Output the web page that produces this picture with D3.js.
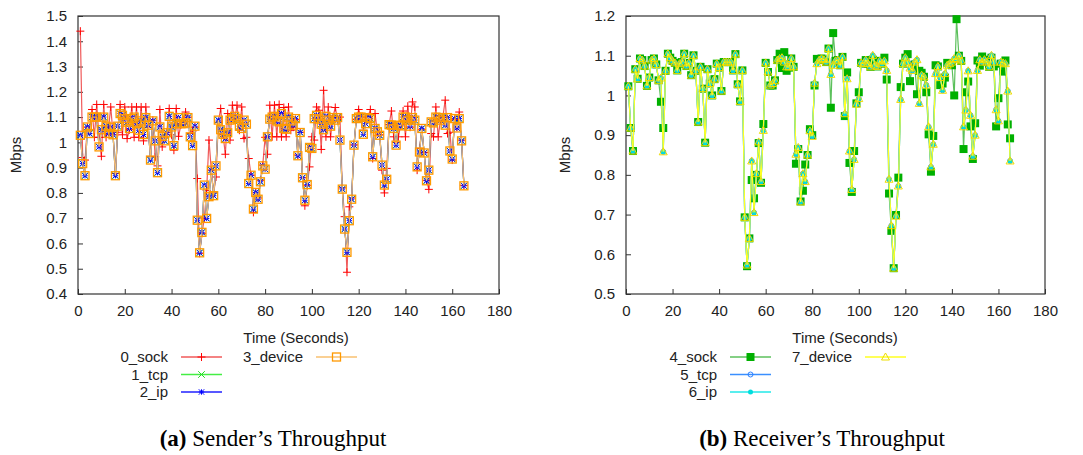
<!DOCTYPE html>
<html>
<head>
<meta charset="utf-8">
<script src="https://cdn.jsdelivr.net/npm/d3@7"></script>
<style>
  body { margin: 0; background: white; }
  svg text { font-family: "Liberation Sans", Arial, sans-serif; fill: #222; }
  .caption { font-family: "Liberation Serif", "Times New Roman", serif; font-size: 23px; fill: #000; }
</style>
</head>
<body>
<svg id="chart" width="1083" height="455"></svg>
<script>
// x ticks shared by both panels
var timeTicks = [0, 20, 40, 60, 80, 100, 120, 140, 160, 180];
var senderTicks = [0.4, 0.5, 0.6, 0.7, 0.8, 0.9, 1, 1.1, 1.2, 1.3, 1.4, 1.5];
var receiverTicks = [0.5, 0.6, 0.7, 0.8, 0.9, 1, 1.1, 1.2];

// sender: socket layer (red)
var senderSock = [1.44, 0.94, 0.93, 1.06, 1.05, 1.13, 1.02, 1.15, 1.02, 0.945,
  1.15, 1.02, 1.05, 1.14, 1.03, 0.877, 1.04, 1.15, 1.03, 1.14,
  1.015, 1.05, 1.14, 1.02, 1.14, 1.02, 1.14, 1.006, 1.14, 1.06,
  0.943, 1.088, 0.943, 0.907, 1.13, 0.982, 1.02, 1.04, 1.134, 1.03,
  0.969, 1.134, 1.024, 1.07, 1.09, 1.12, 1.10, 1.035, 1.045, 1.06,
  0.857, 0.561, 0.64, 0.70, 0.81, 1.009, 0.89, 0.80, 0.863, 1.08,
  1.134, 1.03, 0.953, 1.114, 1.009, 1.147, 1.09, 1.147, 1.048, 1.14,
  1.015, 1.02, 0.936, 0.87, 0.723, 0.80, 0.78, 0.85, 0.91, 1.02,
  0.953, 1.147, 1.022, 1.147, 1.022, 1.15, 1.022, 1.138, 1.022, 1.14,
  1.048, 1.06, 1.09, 0.95, 1.04, 0.86, 0.749, 0.83, 0.903, 1.022,
  1.009, 1.14, 1.127, 0.972, 1.206, 1.022, 1.14, 1.022, 1.10, 1.138,
  1.09, 1.10, 0.82, 0.706, 0.486, 0.745, 0.78, 0.99, 1.09, 1.13,
  1.10, 1.048, 1.09, 1.10, 1.13, 0.936, 1.114, 1.04, 1.03, 0.89,
  0.80, 0.897, 1.07, 1.124, 1.022, 1.00, 1.022, 1.07, 1.124, 1.022,
  1.143, 1.06, 1.16, 1.14, 0.89, 0.976, 1.05, 0.96, 0.85, 0.814,
  1.035, 1.022, 1.14, 1.022, 1.09, 1.10, 1.167, 1.035, 1.04, 0.93,
  1.09, 1.06, 1.12, 1.009, 0.83];

// sender: tcp / ip / device layers lie on top of each other
var senderLower = [1.028, 0.916, 0.868, 1.061, 1.035, 1.10, 1.10, 1.10, 0.982, 1.05,
  1.10, 1.064, 1.035, 1.06, 1.03, 0.868, 1.064, 1.114, 1.107, 1.094,
  1.08, 1.055, 1.094, 1.10, 1.074, 1.048, 1.085, 1.031, 1.098, 1.068,
  0.93, 1.085, 1.006, 0.88, 1.061, 1.024, 1.006, 1.038, 1.103, 1.061,
  0.987, 1.074, 1.098, 1.074, 1.074, 1.077, 1.098, 1.022, 0.987, 1.064,
  0.692, 0.563, 0.644, 0.831, 0.699, 0.785, 0.89, 0.789, 0.907, 1.088,
  1.05, 1.032, 1.015, 1.038, 1.088, 1.094, 1.103, 1.094, 1.064, 1.055,
  1.088, 1.072, 0.837, 0.87, 0.736, 0.802, 0.775, 0.844, 0.907, 0.894,
  1.022, 1.092, 1.10, 1.103, 1.085, 1.081, 1.114, 1.055, 1.052, 1.10,
  1.085, 1.068, 1.094, 0.947, 1.039, 0.86, 0.771, 0.833, 0.98, 0.976,
  1.094, 1.107, 1.092, 1.072, 1.05, 1.103, 1.088, 1.064, 1.098, 1.088,
  1.098, 1.009, 0.815, 0.657, 0.565, 0.69, 0.775, 0.989, 1.094, 1.10,
  1.10, 1.032, 1.074, 1.098, 1.094, 0.943, 1.055, 1.042, 1.028, 0.91,
  0.831, 0.854, 1.07, 1.068, 1.055, 0.989, 1.068, 1.065, 1.10, 1.10,
  1.088, 1.064, 1.098, 1.088, 0.903, 0.962, 1.055, 0.958, 0.848, 0.89,
  1.081, 1.077, 1.10, 1.098, 1.088, 1.098, 1.068, 1.098, 0.966, 0.934,
  1.094, 1.057, 1.094, 1.006, 0.828];

// receiver: socket layer (green)
var receiverSock = [1.023, 0.918, 0.86, 1.066, 1.042, 1.093, 1.089, 1.074, 1.024, 1.045,
  1.089, 1.093, 1.078, 1.038, 0.984, 0.918, 1.062, 1.105, 1.095, 1.087,
  1.082, 1.063, 1.08, 1.084, 1.105, 1.074, 1.082, 1.051, 1.101, 1.062,
  0.933, 1.072, 1.017, 0.881, 1.066, 1.03, 1.0, 1.041, 1.08, 1.07,
  1.011, 1.084, 1.084, 1.084, 1.084, 1.063, 1.104, 1.028, 0.985, 1.063,
  0.693, 0.57, 0.64, 0.787, 0.741, 0.80, 0.88, 0.78, 0.928, 1.082,
  1.059, 1.025, 1.025, 1.038, 1.089, 1.105, 1.069, 1.109, 1.062, 1.07,
  1.093, 1.072, 0.828, 0.865, 0.733, 0.76, 0.826, 0.85, 0.915, 0.90,
  1.025, 1.092, 1.089, 1.093, 1.09, 1.084, 1.118, 0.969, 1.157, 1.087,
  1.089, 1.076, 1.097, 0.948, 1.058, 0.83, 0.757, 0.86, 0.98, 1.008,
  1.082, 1.08, 1.089, 1.08, 1.072, 1.09, 1.076, 1.073, 1.087, 1.08,
  1.095, 1.04, 0.753, 0.659, 0.565, 0.699, 0.793, 1.021, 1.08, 1.095,
  1.104, 1.036, 1.075, 1.078, 1.003, 1.062, 1.057, 1.047, 1.008, 0.902,
  0.808, 0.898, 1.076, 1.073, 1.026, 1.03, 1.045, 1.082, 1.08, 1.076,
  1.0, 1.192, 1.10, 1.087, 0.865, 1.008, 1.035, 0.922, 0.84, 0.93,
  1.088, 1.075, 1.098, 1.09, 1.084, 1.072, 1.095, 1.073, 0.922, 0.993,
  1.08, 1.06, 1.088, 0.927, 0.892];

// receiver: tcp / ip / device layers lie on top of each other
var receiverLower = [1.023, 0.918, 0.86, 1.066, 1.042, 1.093, 1.089, 1.074, 1.024, 1.045,
  1.089, 1.093, 1.078, 1.038, 1.044, 0.858, 1.062, 1.105, 1.095, 1.087,
  1.082, 1.063, 1.08, 1.084, 1.105, 1.074, 1.082, 1.051, 1.101, 1.062,
  0.933, 1.072, 1.017, 0.881, 1.066, 1.03, 1.0, 1.041, 1.08, 1.07,
  1.011, 1.084, 1.084, 1.084, 1.084, 1.063, 1.104, 1.028, 0.985, 1.063,
  0.693, 0.573, 0.64, 0.835, 0.705, 0.803, 0.883, 0.783, 0.912, 1.082,
  1.059, 1.026, 1.03, 1.038, 1.089, 1.093, 1.095, 1.084, 1.072, 1.072,
  1.093, 1.072, 0.852, 0.869, 0.732, 0.803, 0.783, 0.85, 0.911, 0.897,
  1.031, 1.08, 1.089, 1.093, 1.09, 1.084, 1.118, 1.053, 1.076, 1.087,
  1.089, 1.076, 1.097, 0.954, 1.042, 0.86, 0.763, 0.839, 0.978, 0.992,
  1.082, 1.08, 1.089, 1.08, 1.072, 1.101, 1.076, 1.073, 1.087, 1.08,
  1.087, 1.063, 0.789, 0.672, 0.565, 0.696, 0.772, 0.99, 1.08, 1.095,
  1.084, 1.069, 1.063, 1.084, 1.09, 0.98, 1.051, 1.047, 1.026, 0.921,
  0.82, 0.877, 1.055, 1.073, 1.045, 1.013, 1.055, 1.076, 1.08, 1.084,
  1.093, 1.09, 1.101, 1.087, 0.921, 0.963, 1.062, 0.95, 0.847, 0.90,
  1.063, 1.09, 1.084, 1.09, 1.084, 1.072, 1.101, 1.084, 0.964, 0.936,
  1.084, 1.082, 1.08, 1.011, 0.835];

var senderSeries = [
  { name: "0_sock", values: senderSock, line: "#f05a5a", mark: "#ff0000", symbol: "plus" },
  { name: "1_tcp", values: senderLower, line: "#44ee44", mark: "#22dd22", symbol: "cross" },
  { name: "2_ip", values: senderLower, line: "#2020ff", mark: "#0000ff", symbol: "star" },
  { name: "3_device", values: senderLower, line: "#f8c070", mark: "#ff9900", symbol: "openSquare" }
];
var receiverSeries = [
  { name: "4_sock", values: receiverSock, line: "#5cc05c", mark: "#00b000", symbol: "fillSquare" },
  { name: "5_tcp", values: receiverLower, line: "#3a8fff", mark: "#2a80ff", symbol: "openCircle" },
  { name: "6_ip", values: receiverLower, line: "#22e8e8", mark: "#00dddd", symbol: "fillCircle" },
  { name: "7_device", values: receiverLower, line: "#ffff22", mark: "#eedd00", symbol: "openTriangle" }
];

var svg = d3.select("#chart");

// one marker at x,y
function drawSymbol(g, type, x, y, color) {
    var s = 4;
    if (type == "plus") {
        g.append("path").attr("d", "M" + (x - s) + "," + y + "H" + (x + s) + "M" + x + "," + (y - s) + "V" + (y + s))
            .attr("stroke", color).attr("stroke-width", 1).attr("fill", "none");
    } else if (type == "cross") {
        s = 3.3;
        g.append("path").attr("d", "M" + (x - s) + "," + (y - s) + "L" + (x + s) + "," + (y + s) + "M" + (x - s) + "," + (y + s) + "L" + (x + s) + "," + (y - s))
            .attr("stroke", color).attr("stroke-width", 1).attr("fill", "none");
    } else if (type == "star") {
        s = 2.7;
        g.append("path").attr("d", "M" + (x - s) + "," + y + "H" + (x + s) + "M" + x + "," + (y - s) + "V" + (y + s) +
            "M" + (x - s) + "," + (y - s) + "L" + (x + s) + "," + (y + s) + "M" + (x - s) + "," + (y + s) + "L" + (x + s) + "," + (y - s))
            .attr("stroke", color).attr("stroke-width", 1).attr("fill", "none");
    } else if (type == "openSquare") {
        g.append("rect").attr("x", x - 4).attr("y", y - 4).attr("width", 8).attr("height", 8)
            .attr("stroke", color).attr("stroke-width", 1.3).attr("fill", "none");
    } else if (type == "fillSquare") {
        g.append("rect").attr("x", x - 4).attr("y", y - 4).attr("width", 8).attr("height", 8)
            .attr("fill", color);
    } else if (type == "openCircle") {
        g.append("circle").attr("cx", x).attr("cy", y).attr("r", 2.5)
            .attr("stroke", color).attr("stroke-width", 1).attr("fill", "none");
    } else if (type == "fillCircle") {
        g.append("circle").attr("cx", x).attr("cy", y).attr("r", 2.5).attr("fill", color);
    } else if (type == "openTriangle") {
        g.append("path").attr("d", "M" + x + "," + (y - 4) + "L" + (x + 4) + "," + (y + 3) + "L" + (x - 4) + "," + (y + 3) + "Z")
            .attr("stroke", color).attr("stroke-width", 1).attr("fill", "none");
    }
}

function drawPanel(opts) {
    var x = d3.scaleLinear().domain([0, 180]).range([opts.left, opts.right]);
    var y = d3.scaleLinear().domain(opts.yDomain).range([opts.bottom, opts.top]);
    var g = svg.append("g");

    // axes with inward ticks, gnuplot look
    var xAxis = d3.axisBottom(x).tickValues(timeTicks).tickSize(-5).tickPadding(11).tickFormat(d3.format("d"));
    var yAxis = d3.axisLeft(y).tickValues(opts.yTicks).tickSize(-5).tickPadding(11).tickFormat(function (d) { return String(+d.toFixed(1)); });

    var gx = g.append("g").attr("transform", "translate(0," + opts.bottom + ")").call(xAxis);
    var gy = g.append("g").attr("transform", "translate(" + opts.left + ",0)").call(yAxis);
    [gx, gy].forEach(function (a) {
        a.select(".domain").remove();
        a.selectAll(".tick line").attr("stroke", "#333");
        a.selectAll(".tick text").attr("font-size", 15).attr("fill", "#222")
            .style("font-family", "'Liberation Sans', Arial, sans-serif");
    });

    g.append("rect").attr("x", opts.left).attr("y", opts.top)
        .attr("width", opts.right - opts.left).attr("height", opts.bottom - opts.top)
        .attr("fill", "none").attr("stroke", "#333").attr("stroke-width", 1.2);

    g.append("text").attr("transform", "translate(" + opts.ylabelX + ",155) rotate(-90)")
        .attr("text-anchor", "middle").attr("font-size", 15).text("Mbps");

    var line = d3.line().x(function (d, i) { return x(i + 1); }).y(function (d) { return y(d); });

    opts.series.forEach(function (s) {
        var sg = g.append("g");
        sg.append("path").datum(s.values).attr("d", line)
            .attr("fill", "none").attr("stroke", s.line).attr("stroke-width", 1.2);
        for (var i = 0; i < s.values.length; i++) {
            drawSymbol(sg, s.symbol, x(i + 1), y(s.values[i]), s.mark);
        }
    });

    // legend under the axis, gnuplot style
    g.append("text").attr("x", opts.timeX).attr("y", 343).attr("text-anchor", "middle")
        .attr("font-size", 15).text("Time (Seconds)");
    opts.series.forEach(function (s, i) {
        var col = i < 3 ? 0 : 1;
        var row = i < 3 ? i : 0;
        var tx = opts.legendX[col];
        var cy = 357 + row * 17.5;
        g.append("text").attr("x", tx).attr("y", cy + 5).attr("text-anchor", "end")
            .attr("font-size", 15).text(s.name);
        g.append("line").attr("x1", tx + 13).attr("x2", tx + 54).attr("y1", cy).attr("y2", cy)
            .attr("stroke", s.line).attr("stroke-width", 1.3);
        drawSymbol(g, s.symbol, tx + 33.5, cy, s.mark);
    });

    var cap = g.append("text").attr("class", "caption").attr("x", opts.captionX).attr("y", 446)
        .attr("text-anchor", "middle");
    cap.append("tspan").attr("font-weight", "bold").text(opts.captionBold);
    cap.append("tspan").text(opts.captionText);
}

drawPanel({
    left: 78, right: 499, top: 16, bottom: 294,
    yDomain: [0.4, 1.5], yTicks: senderTicks, series: senderSeries,
    ylabelX: 21, timeX: 296, legendX: [168, 303],
    captionX: 273, captionBold: "(a)", captionText: " Sender\u2019s Throughput"
});
drawPanel({
    left: 626, right: 1045, top: 16, bottom: 294,
    yDomain: [0.5, 1.2], yTicks: receiverTicks, series: receiverSeries,
    ylabelX: 570, timeX: 845, legendX: [717, 852],
    captionX: 822, captionBold: "(b)", captionText: " Receiver\u2019s Throughput"
});
</script>
</body>
</html>
